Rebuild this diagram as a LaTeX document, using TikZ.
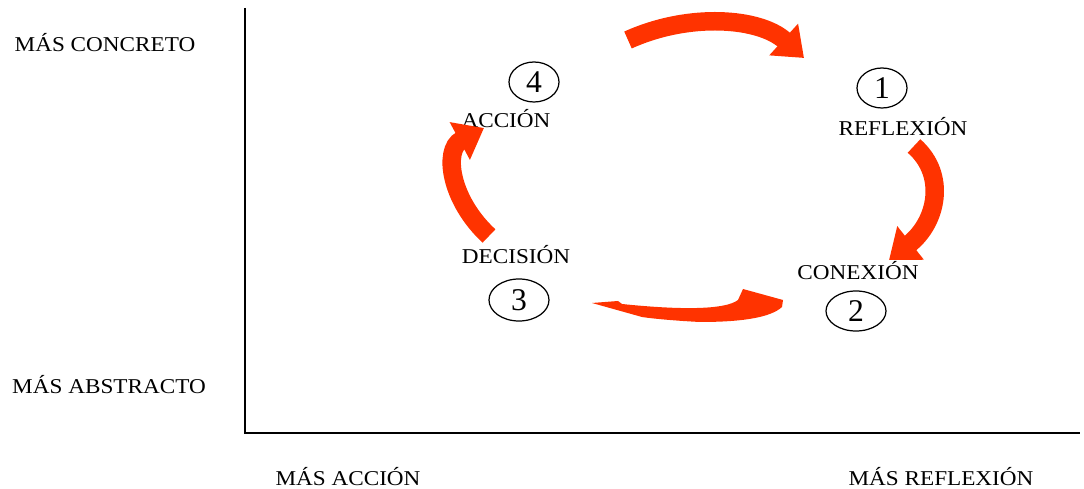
\documentclass[tikz,border=0pt]{standalone}
\usepackage{fontspec}
\setmainfont{Liberation Serif}
\usepackage{graphicx}
\usetikzlibrary{arrows.meta,shapes.geometric}
\definecolor{arrowred}{HTML}{FF3300}
\newcommand{\wide}[1]{\scalebox{1.1}[1]{#1}}
\begin{document}
\begin{tikzpicture}[x=0.2mm,y=-0.2mm,
    lbl/.style={inner sep=0pt,font=\fontsize{12}{14}\selectfont},
    num/.style={draw,ellipse,line width=0.7pt,inner sep=0pt,minimum width=10mm,minimum height=8mm,font=\fontsize{18}{20}\selectfont},
    cyclearrow/.style={arrowred,line width=3.7mm,-{Triangle[length=5.5mm,width=8.2mm]}}]
          \useasboundingbox (0,0) rectangle (1084,489);
          % axes
          \draw[line width=1.7pt] (245,8) -- (245,433) -- (1080,433);
          \node[lbl] (concreto) at (105,43) {\wide{MÁS CONCRETO}};
          \node[lbl] (abstracto) at (109,385) {\wide{MÁS ABSTRACTO}};
          \node[lbl] (maccion) at (348,477) {\wide{MÁS ACCIÓN}};
          \node[lbl] (mreflexion) at (941,477) {\wide{MÁS REFLEXIÓN}};
          % stages
          \node[num] (one) at (882,88) {1};
          \node[lbl] (reflexion) at (903,127) {\wide{REFLEXIÓN}};
          \node[num,minimum width=12mm] (two) at (856,311) {2};
          \node[lbl] (conexion) at (858,271) {\wide{CONEXIÓN}};
          \node[num,minimum width=12mm,minimum height=8.4mm] (three) at (519,300) {3};
          \node[lbl] (decision) at (516,255) {\wide{DECISIÓN}};
          \node[num] (four) at (534,82) {4};
          \node[lbl] (accion) at (506,119) {\wide{ACCIÓN}};
          % cycle arrows
          \draw[cyclearrow] (628,40) .. controls (690,12) and (760,18) .. (804,58);
          \draw[cyclearrow] (914,146) .. controls (947,175) and (937,222) .. (889,260);
          \fill[arrowred] (592,303) -- (618,301) -- (622,304) .. controls (680,310) and (725,310) .. (738,300)
            -- (743,289) -- (783,300) -- (782,307) .. controls (770,318) and (740,322) .. (700,322)
            .. controls (680,321) and (655,319) .. (642,317) -- cycle;
          \draw[cyclearrow] (489,236) .. controls (450,200) and (443,150) .. (484,128);
        \end{tikzpicture}
\end{document}
